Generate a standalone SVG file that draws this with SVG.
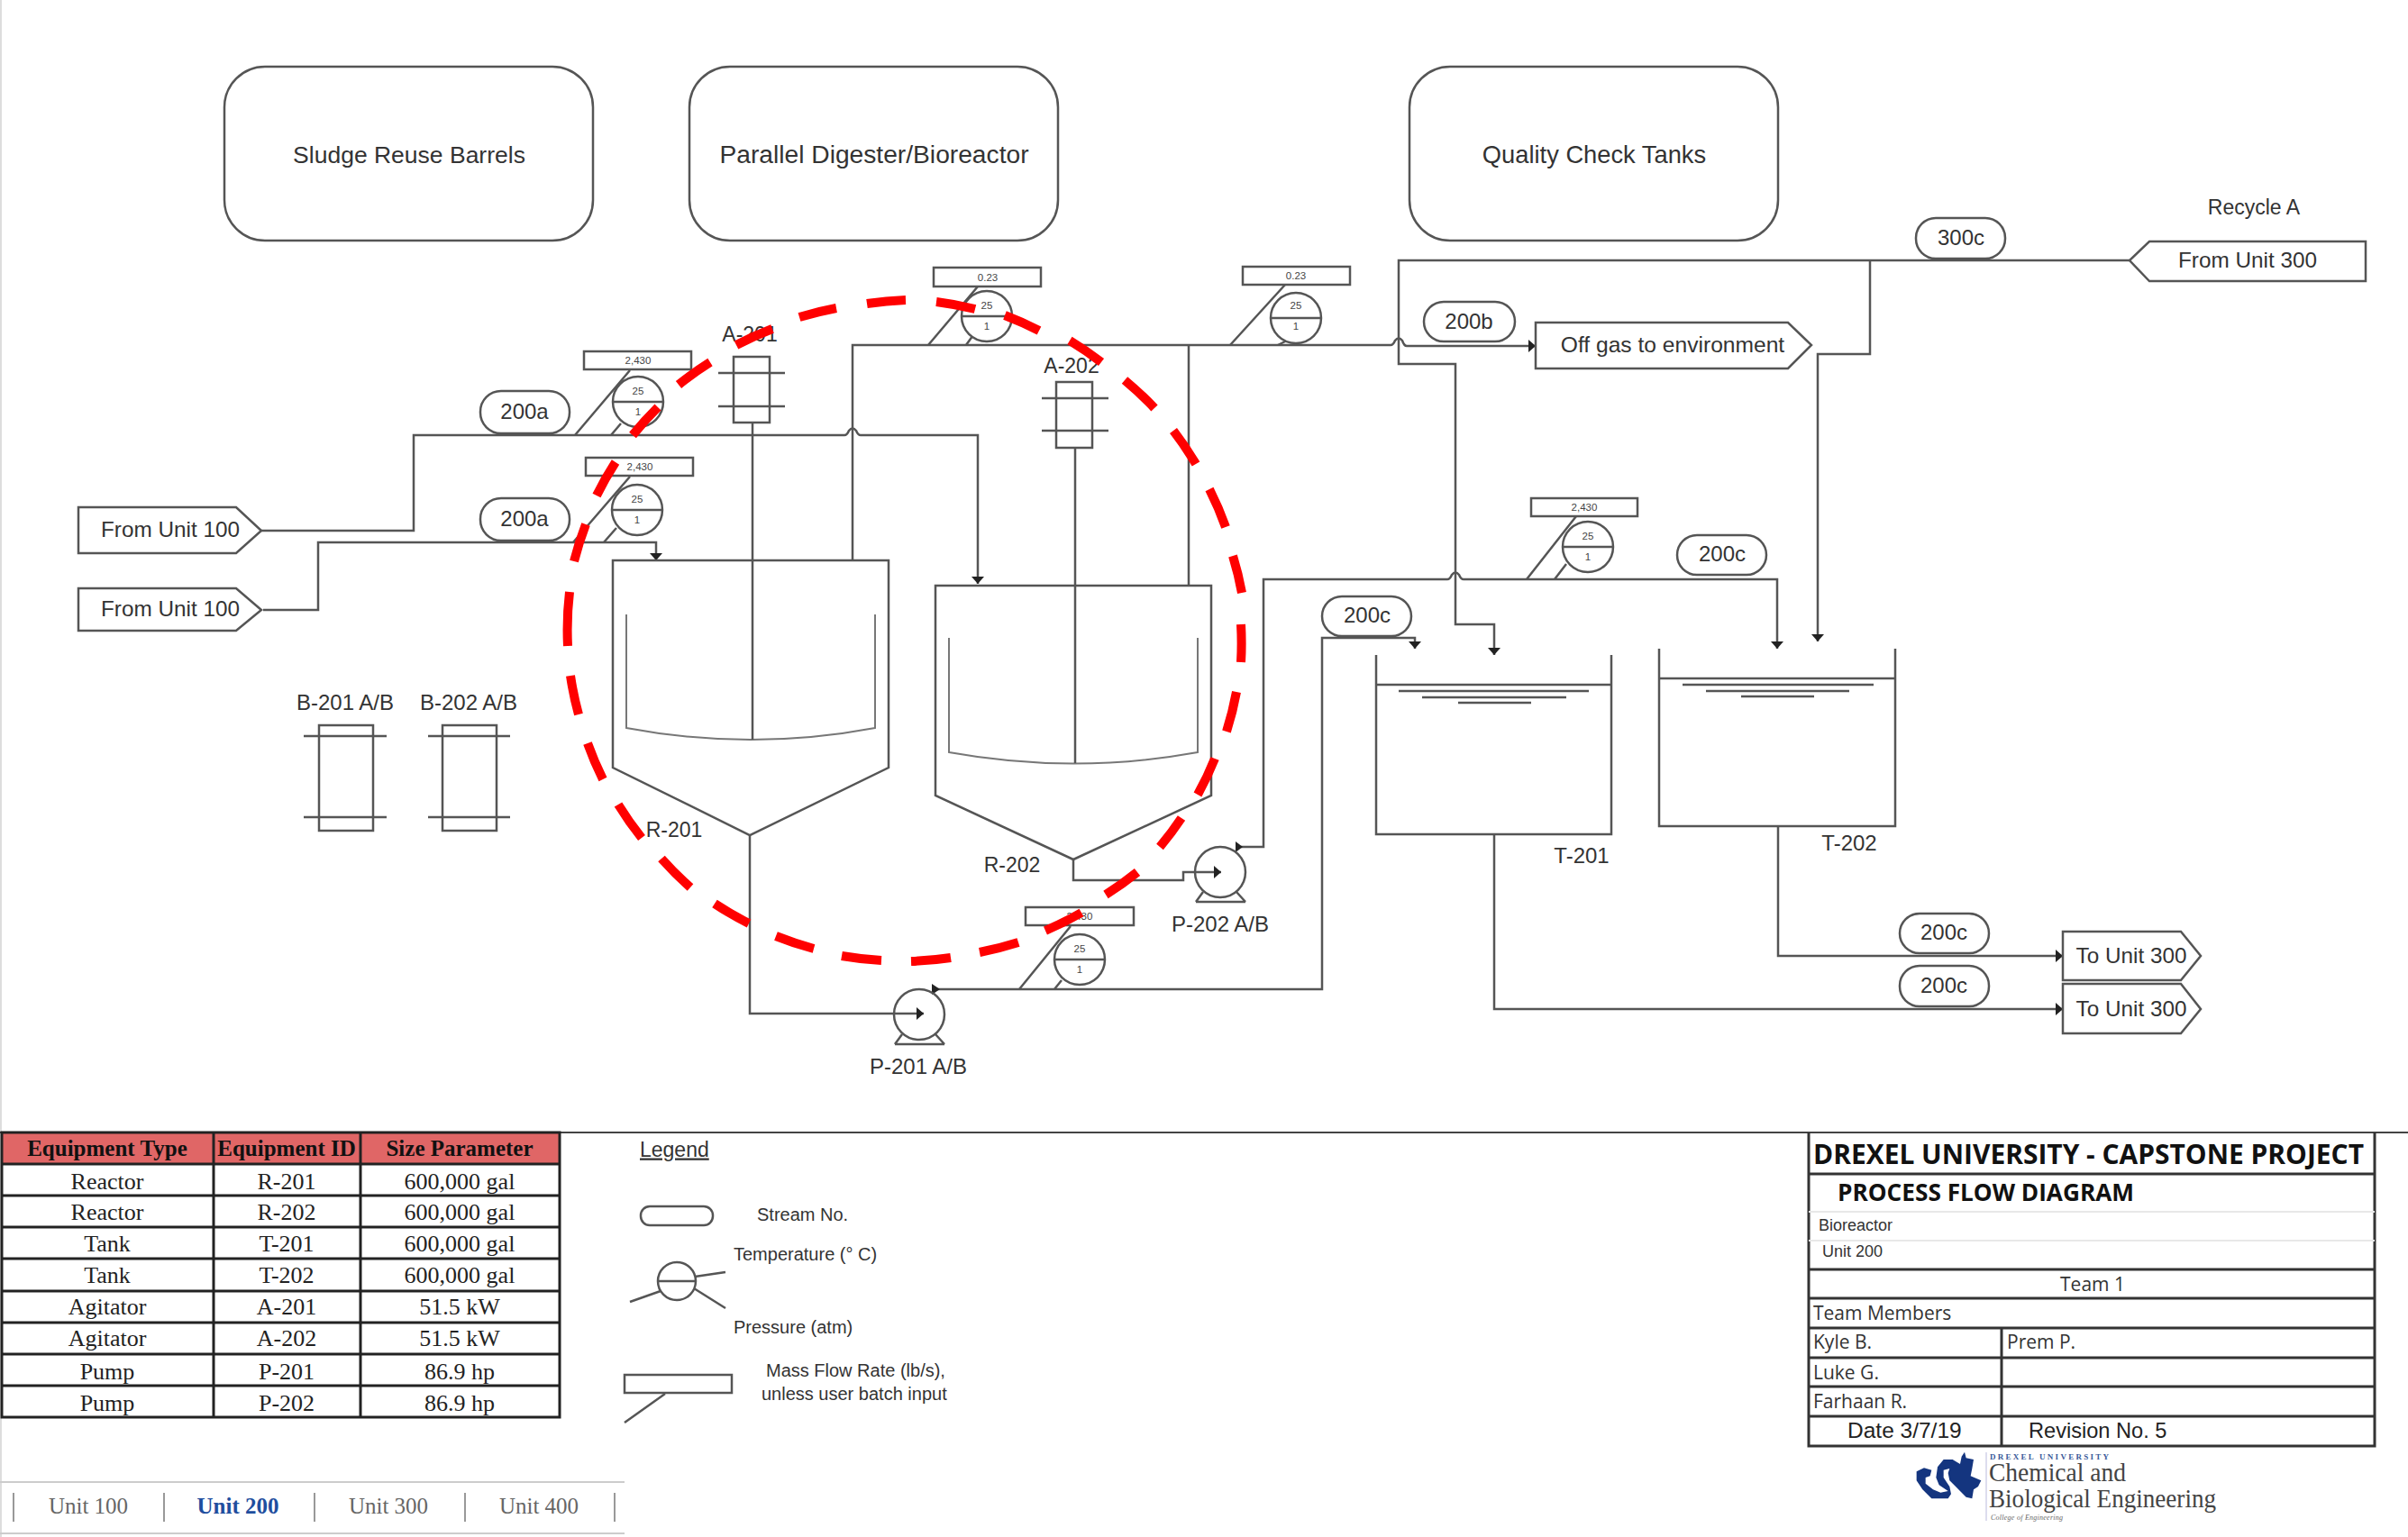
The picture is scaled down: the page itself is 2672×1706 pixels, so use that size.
<svg xmlns="http://www.w3.org/2000/svg" width="2672" height="1706" viewBox="0 0 2672 1706">
<style>
text{font-family:"Liberation Sans",Arial,sans-serif;fill:#333;transform:translateY(-1.5px)}
.l{font-size:26.5px;text-anchor:middle}
.s{font-size:24px;text-anchor:middle}
.m{font-size:24.3px;text-anchor:middle}
.g{font-size:11.5px;text-anchor:middle;fill:#444}
.ln{fill:none;stroke:#555;stroke-width:2.5}
.sh{fill:#fff;stroke:#555;stroke-width:2.5}
.nf{fill:none;stroke:#555;stroke-width:2.5}
.tn{fill:none;stroke:#777;stroke-width:2}
.ar{fill:#222}
.t{font-family:"Liberation Serif","Times New Roman",serif;font-size:26px;text-anchor:middle;fill:#222}
.th{font-family:"Liberation Serif","Times New Roman",serif;font-size:25px;font-weight:bold;text-anchor:middle;fill:#111}
.tab{font-family:"Liberation Serif","Times New Roman",serif;font-size:25px;text-anchor:middle;fill:#666}
.o{font-family:"Open Sans",sans-serif;fill:#333;font-size:21px}
.lg{font-size:20px;fill:#333}
.b{stroke:#333;stroke-width:3;fill:none}
.lf{stroke:#e8e8e8;stroke-width:2;fill:none}
.k{stroke:#222;stroke-width:3;fill:none}
</style>
<defs>
<marker id="arr" markerUnits="userSpaceOnUse" markerWidth="10" markerHeight="14" refX="8" refY="7" orient="auto"><path d="M0 0L8 7L0 14Z" fill="#222"/></marker>
<g id="gauge"><circle r="28" class="sh"/><path d="M-28 0H28" class="ln"/></g>
<g id="pump"><path d="M-27 33H28M-19 22L-27 33M18 22L28 33" class="ln"/><circle r="28" class="nf"/></g>
</defs>
<line x1="1" y1="0" x2="1" y2="1706" stroke="#ddd" stroke-width="2"/>
<g id="connectors">
<path class="ln" d="M290 589H459V483H937Q940 483 942 478Q946 473 950 478Q952 483 955 483H1085V648" marker-end="url(#arr)"/>
<path class="ln" d="M292 677H353V602H728V622" marker-end="url(#arr)"/>
<path class="ln" d="M946 622V383H1543Q1546 383 1548 378Q1552 373 1556 378Q1558 384 1561 384H1704" marker-end="url(#arr)"/>
<path class="ln" d="M1319 650V383"/>
<path class="ln" d="M2363 289H1552V404H1615V693H1658V727" marker-end="url(#arr)"/>
<path class="ln" d="M2075 289V393H2017V712" marker-end="url(#arr)"/>
<path class="ln" d="M1377 940H1402V643H1606Q1609 643 1611 638Q1615 633 1619 638Q1621 643 1624 643H1972V720" marker-end="url(#arr)"/>
<path class="ln" d="M1040 1098H1467V708H1570V720" marker-end="url(#arr)"/>
<path class="ln" d="M832 927V1125H1025" marker-end="url(#arr)"/>
<path class="ln" d="M1191 954V977H1313V968H1355" marker-end="url(#arr)"/>
<path class="ln" d="M1658 926V1120H2289" marker-end="url(#arr)"/>
<path class="ln" d="M1973 917V1061H2289" marker-end="url(#arr)"/>
<path class="ar" d="M1371 934L1379 940L1371 946Z"/>
<path class="ar" d="M1034 1092L1043 1098L1034 1104Z"/>
</g>
<g id="box-sludge"><rect x="249" y="74" width="409" height="193" rx="45" class="nf"/><text class="l" x="454" y="182">Sludge Reuse Barrels</text></g>
<g id="box-digester"><rect x="765" y="74" width="409" height="193" rx="45" class="nf"/><text class="l" x="970" y="182" style="font-size:28.2px">Parallel Digester/Bioreactor</text></g>
<g id="box-quality"><rect x="1564" y="74" width="409" height="193" rx="45" class="nf"/><text class="l" x="1769" y="182" style="font-size:27.3px">Quality Check Tanks</text></g>
<g id="r-201"><path class="ln" d="M680 622H986V852L832 927L680 852Z"/><path class="tn" d="M695 682V808Q833 834 971 808V682"/><path class="ln" d="M835 469V821"/><text class="s" x="748" y="930" style="font-size:23px">R-201</text></g>
<g id="r-202"><path class="ln" d="M1038 650H1344V883L1191 954L1038 883Z"/><path class="tn" d="M1053 708V835Q1191 860 1329 835V708"/><path class="ln" d="M1193 497V847"/><text class="s" x="1123" y="969" style="font-size:23px">R-202</text></g>
<g id="a-201"><rect x="814" y="396" width="40" height="73" class="nf"/><path class="ln" d="M797 414H871M797 451H871"/><text class="s" x="832" y="380" style="font-size:23px">A-201</text></g>
<g id="a-202"><rect x="1172" y="424" width="40" height="73" class="nf"/><path class="ln" d="M1156 442H1230M1156 478H1230"/><text class="s" x="1189" y="415" style="font-size:23px">A-202</text></g>
<g id="b-201"><rect x="354" y="805" width="60" height="117" class="nf"/><path class="ln" d="M337 817H429M337 907H429"/><text class="s" x="383" y="789">B-201 A/B</text></g>
<g id="b-202"><rect x="491" y="805" width="60" height="117" class="nf"/><path class="ln" d="M475 817H566M475 907H566"/><text class="s" x="520" y="789">B-202 A/B</text></g>
<g id="t-201"><path class="ln" d="M1527 727V926H1788V727M1527 760H1788M1552 767H1763M1578 774H1738M1618 780H1699"/><text class="s" x="1755" y="959">T-201</text></g>
<g id="t-202"><path class="ln" d="M1841 720V917H2103V720M1841 753H2103M1867 760H2079M1893 767H2052M1932 773H2013"/><text class="s" x="2052" y="945">T-202</text></g>
<g id="p-201"><use href="#pump" x="1020" y="1126"/><text class="s" x="1019" y="1193">P-201 A/B</text></g>
<g id="p-202"><use href="#pump" x="1354" y="968"/><text class="s" x="1354" y="1035">P-202 A/B</text></g>
<g id="g1"><rect x="648" y="390" width="119" height="20" class="sh"/><text class="g" x="708" y="405">2,430</text><path class="ln" d="M699 411L638 483M689 470L678 483"/><use href="#gauge" x="708" y="446"/><text class="g" x="708" y="439">25</text><text class="g" x="708" y="462">1</text></g>
<g id="g2"><rect x="650" y="508" width="119" height="20" class="sh"/><text class="g" x="710" y="523">2,430</text><path class="ln" d="M699 529L636 602M684 586L670 602"/><use href="#gauge" x="707" y="566"/><text class="g" x="707" y="559">25</text><text class="g" x="707" y="582">1</text></g>
<g id="g3"><rect x="1036" y="297" width="119" height="21" class="sh"/><text class="g" x="1096" y="313">0.23</text><path class="ln" d="M1085 318L1030 383M1082 369L1072 383"/><use href="#gauge" x="1095" y="351"/><text class="g" x="1095" y="344">25</text><text class="g" x="1095" y="367">1</text></g>
<g id="g4"><rect x="1379" y="296" width="119" height="20" class="sh"/><text class="g" x="1438" y="311">0.23</text><path class="ln" d="M1426 316L1365 383M1428 378L1418 383"/><use href="#gauge" x="1438" y="353"/><text class="g" x="1438" y="344">25</text><text class="g" x="1438" y="367">1</text></g>
<g id="g5"><rect x="1699" y="553" width="118" height="20" class="sh"/><text class="g" x="1758" y="568">2,430</text><path class="ln" d="M1749 573L1694 643M1738 626L1725 643"/><use href="#gauge" x="1762" y="607"/><text class="g" x="1762" y="600">25</text><text class="g" x="1762" y="623">1</text></g>
<g id="g6"><rect x="1138" y="1007" width="120" height="20" class="sh"/><text class="g" x="1198" y="1022">2,430</text><path class="ln" d="M1188 1028L1131 1098M1178 1088L1170 1098"/><use href="#gauge" x="1198" y="1065"/><text class="g" x="1198" y="1058">25</text><text class="g" x="1198" y="1081">1</text></g>
<g id="s-200a1"><rect x="533" y="434" width="99" height="47" rx="23" class="sh"/><text class="s" x="582" y="466">200a</text></g>
<g id="s-200a2"><rect x="533" y="553" width="99" height="47" rx="23" class="sh"/><text class="s" x="582" y="585">200a</text></g>
<g id="s-200b"><rect x="1580" y="335" width="101" height="44" rx="22" class="sh"/><text class="s" x="1630" y="366">200b</text></g>
<g id="s-200c1"><rect x="1861" y="594" width="99" height="44" rx="22" class="sh"/><text class="s" x="1911" y="624">200c</text></g>
<g id="s-200c2"><rect x="1467" y="662" width="99" height="44" rx="22" class="sh"/><text class="s" x="1517" y="692">200c</text></g>
<g id="s-300c"><rect x="2126" y="242" width="99" height="45" rx="22" class="sh"/><text class="s" x="2176" y="273">300c</text></g>
<g id="s-200c3"><rect x="2108" y="1014" width="99" height="44" rx="22" class="sh"/><text class="s" x="2157" y="1044">200c</text></g>
<g id="s-200c4"><rect x="2108" y="1072" width="99" height="45" rx="22" class="sh"/><text class="s" x="2157" y="1103">200c</text></g>
<g id="from-100a"><path class="sh" d="M87 563H262L290 589L262 614H87Z"/><text class="m" x="189" y="597">From Unit 100</text></g>
<g id="from-100b"><path class="sh" d="M87 653H262L290 677L262 700H87Z"/><text class="m" x="189" y="685">From Unit 100</text></g>
<g id="off-gas"><path class="sh" d="M1704 358H1984L2010 383L1984 409H1704Z"/><text class="m" x="1856" y="392" style="font-size:24.6px">Off gas to environment</text></g>
<g id="from-300"><path class="sh" d="M2625 268H2385L2363 289L2385 312H2625Z"/><text class="m" x="2494" y="298">From Unit 300</text><text class="s" x="2501" y="239" style="font-size:23px">Recycle A</text></g>
<g id="to-300a"><path class="sh" d="M2289 1034H2420L2442 1061L2420 1088H2289Z"/><text class="m" x="2365" y="1070">To Unit 300</text></g>
<g id="to-300b"><path class="sh" d="M2289 1092H2420L2442 1120L2420 1147H2289Z"/><text class="m" x="2365" y="1129">To Unit 300</text></g>
<path id="red-ring" fill="none" stroke="#f00" stroke-width="10" d="M630 717A376 368 0 0 1 632 657M637 623A376 368 0 0 1 650 582M662 550A376 368 0 0 1 683 513M702 483A376 368 0 0 1 730 452M753 427A376 368 0 0 1 788 402M817 383A376 368 0 0 1 857 365M887 352A376 368 0 0 1 928 342M962 337A376 368 0 0 1 1005 333M1039 335A376 368 0 0 1 1082 343M1115 350A376 368 0 0 1 1153 367M1187 378A376 368 0 0 1 1222 402M1248 422A376 368 0 0 1 1281 453M1302 478A376 368 0 0 1 1327 515M1342 543A376 368 0 0 1 1360 585M1368 617A376 368 0 0 1 1378 658M1377 693A376 368 0 0 1 1377 735M1372 768A376 368 0 0 1 1361 812M1348 842A376 368 0 0 1 1329 882M1311 908A376 368 0 0 1 1287 940M1262 968A376 368 0 0 1 1227 993M1200 1013A376 368 0 0 1 1160 1033M1130 1046A376 368 0 0 1 1087 1057M1055 1063A376 368 0 0 1 1011 1067M978 1066A376 368 0 0 1 934 1061M903 1053A376 368 0 0 1 861 1039M831 1025A376 368 0 0 1 793 1003M766 985A376 368 0 0 1 734 953M712 930A376 368 0 0 1 686 893M669 865A376 368 0 0 1 652 825M642 793A376 368 0 0 1 633 750"/>
<line x1="0" y1="1257" x2="2672" y2="1257" stroke="#444" stroke-width="2"/>
<g id="equipment-table">
<rect x="2" y="1257" width="619" height="35" fill="#e06666"/>
<path class="k" d="M2 1257H621V1573H2ZM237 1257V1573M400 1257V1573M2 1292H621M2 1327H621M2 1362H621M2 1397H621M2 1433H621M2 1468H621M2 1503H621M2 1538H621"/>
<text class="th" x="119" y="1284">Equipment Type</text><text class="th" x="318" y="1284">Equipment ID</text><text class="th" x="510" y="1284">Size Parameter</text>
<text class="t" x="119" y="1321">Reactor</text><text class="t" x="318" y="1321">R-201</text><text class="t" x="510" y="1321">600,000 gal</text>
<text class="t" x="119" y="1355">Reactor</text><text class="t" x="318" y="1355">R-202</text><text class="t" x="510" y="1355">600,000 gal</text>
<text class="t" x="119" y="1390">Tank</text><text class="t" x="318" y="1390">T-201</text><text class="t" x="510" y="1390">600,000 gal</text>
<text class="t" x="119" y="1425">Tank</text><text class="t" x="318" y="1425">T-202</text><text class="t" x="510" y="1425">600,000 gal</text>
<text class="t" x="119" y="1460">Agitator</text><text class="t" x="318" y="1460">A-201</text><text class="t" x="510" y="1460">51.5 kW</text>
<text class="t" x="119" y="1495">Agitator</text><text class="t" x="318" y="1495">A-202</text><text class="t" x="510" y="1495">51.5 kW</text>
<text class="t" x="119" y="1532">Pump</text><text class="t" x="318" y="1532">P-201</text><text class="t" x="510" y="1532">86.9 hp</text>
<text class="t" x="119" y="1567">Pump</text><text class="t" x="318" y="1567">P-202</text><text class="t" x="510" y="1567">86.9 hp</text>
</g>
<g id="tabs">
<path d="M0 1645H693M0 1702H693" stroke="#ccc" stroke-width="2" fill="none"/>
<path d="M15 1657V1689M182 1657V1689M349 1657V1689M516 1657V1689M682 1657V1689" stroke="#999" stroke-width="2" fill="none"/>
<text class="tab" x="98" y="1681">Unit 100</text><text class="tab" x="264" y="1681" style="fill:#1f4e9e;font-weight:bold">Unit 200</text><text class="tab" x="431" y="1681">Unit 300</text><text class="tab" x="598" y="1681">Unit 400</text>
</g>
<g id="legend">
<text x="710" y="1285" style="font-size:23px;text-decoration:underline">Legend</text>
<rect x="711" y="1339" width="80" height="21" rx="10" class="nf"/><text class="lg" x="840" y="1356">Stream No.</text>
<circle cx="751" cy="1422" r="21" class="nf"/><path class="ln" d="M730 1422H772M771 1417L805 1412M733 1433L699 1445M770 1430L805 1452"/>
<text class="lg" x="814" y="1400">Temperature (° C)</text><text class="lg" x="814" y="1481">Pressure (atm)</text>
<rect x="693" y="1526" width="119" height="20" class="nf"/><path class="ln" d="M738 1547L693 1579"/>
<text class="lg" x="850" y="1529">Mass Flow Rate (lb/s),</text><text class="lg" x="845" y="1555">unless user batch input</text>
</g>
<g id="title-block">
<path class="b" d="M2007 1257V1605H2635V1257M2007 1303H2635M2007 1409H2635M2007 1441H2635M2007 1474H2635M2007 1507H2635M2007 1539H2635M2007 1572H2635M2221 1474V1605"/>
<path class="lf" d="M2007 1345H2635M2007 1377H2635"/>
<text x="2012" y="1293" textLength="611" lengthAdjust="spacingAndGlyphs" style="font-family:'Open Sans',sans-serif;font-weight:bold;font-size:31px;fill:#111">DREXEL UNIVERSITY - CAPSTONE PROJECT</text>
<text x="2039" y="1334" textLength="329" lengthAdjust="spacingAndGlyphs" style="font-family:'Open Sans',sans-serif;font-weight:bold;font-size:27px;fill:#111">PROCESS FLOW DIAGRAM</text>
<text x="2018" y="1367" style="font-size:18px">Bioreactor</text><text x="2022" y="1396" style="font-size:18px">Unit 200</text>
<text class="o" x="2322" y="1434" text-anchor="middle">Team 1</text>
<text class="o" x="2012" y="1466">Team Members</text>
<text class="o" x="2012" y="1498">Kyle B.</text><text class="o" x="2227" y="1498">Prem P.</text>
<text class="o" x="2012" y="1532">Luke G.</text><text class="o" x="2012" y="1564">Farhaan R.</text>
<text x="2050" y="1597" style="font-size:24.5px;fill:#222">Date 3/7/19</text><text x="2251" y="1597" style="font-size:23.6px;fill:#222">Revision No. 5</text>
</g>
<g id="logo">
<path transform="translate(2100 1600) scale(.3333)" fill="#14357f" d="M80 100L105 88L130 95L125 115L110 120L110 140L135 160L160 170L185 165L155 145L145 120L150 85L170 60L200 60L225 75L230 50L240 35L245 55L270 60L265 90L260 115L295 130L285 150L270 160L265 190L245 185L225 165L205 145L190 130L185 105L190 90L170 95L170 120L190 150L195 175L185 190L130 190L100 160L80 130Z"/>
<path d="M2204 1612V1688" stroke="#dde" stroke-width="2"/>
<text x="2208" y="1621" textLength="132" style="font-family:'Liberation Serif',serif;font-weight:bold;font-size:9px;fill:#3a5a9a">DREXEL UNIVERSITY</text>
<text x="2207" y="1645" textLength="152" lengthAdjust="spacingAndGlyphs" style="font-family:'Liberation Serif',serif;font-size:30px;fill:#444">Chemical and</text>
<text x="2207" y="1674" textLength="252" lengthAdjust="spacingAndGlyphs" style="font-family:'Liberation Serif',serif;font-size:30px;fill:#444">Biological Engineering</text>
<text x="2209" y="1688" textLength="80" style="font-family:'Liberation Serif',serif;font-style:italic;font-size:8px;fill:#666">College of Engineering</text>
</g>
</svg>
